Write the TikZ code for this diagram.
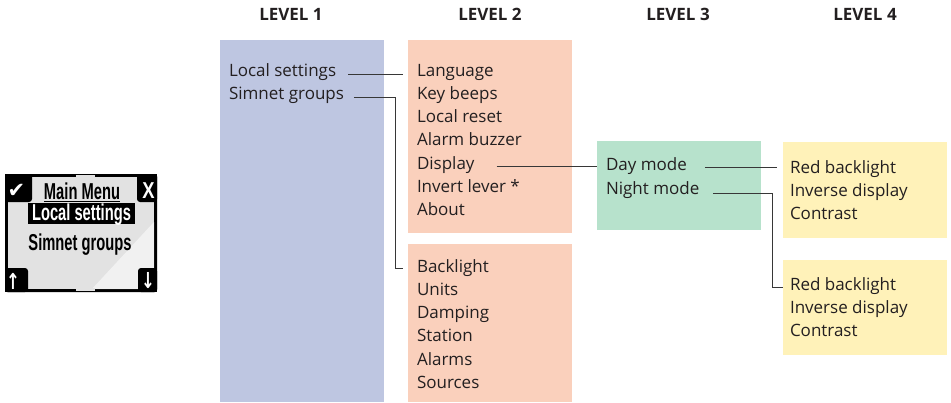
\documentclass[tikz,border=0pt]{standalone}
\usepackage{fontspec}
\setmainfont{Open Sans}
\newfontfamily\screenfont{Liberation Sans}
\newfontfamily\symfont{DejaVu Sans}
\usepackage{graphicx}
\usetikzlibrary{calc}
\definecolor{lvone}{RGB}{190,198,225}
\definecolor{lvtwo}{RGB}{250,208,188}
\definecolor{lvthree}{RGB}{183,226,204}
\definecolor{lvfour}{RGB}{255,242,185}
\definecolor{txt}{RGB}{35,31,32}
\definecolor{wirec}{RGB}{55,55,55}
\definecolor{scrgray}{RGB}{226,226,226}
\tikzset{
  panel/.style={inner sep=0pt, outer sep=0pt, anchor=north west},
  item/.style={anchor=base west, inner sep=0pt, outer sep=0pt, text=txt, font=\fontsize{17}{20}\selectfont},
  head/.style={anchor=base, inner sep=0pt, text=txt, font=\bfseries\fontsize{17}{20}\selectfont},
  wire/.style={draw=wirec, line width=0.9pt},
  scr/.style={inner sep=0pt, outer sep=0pt, anchor=base, font=\screenfont\bfseries\fontsize{23}{25}\selectfont},
  sym/.style={inner sep=0pt, outer sep=0pt, anchor=center, text=white},
}
\begin{document}
\begin{tikzpicture}[x=1pt,y=-1pt]
\useasboundingbox (0,0) rectangle (951,402);

% headers
\node[head] (h1) at (291,20.5) {LEVEL 1};
\node[head] (h2) at (490,20.5) {LEVEL 2};
\node[head] (h3) at (678,20.5) {LEVEL 3};
\node[head] (h4) at (865,20.5) {LEVEL 4};

% panels
\node[panel, fill=lvone,   minimum width=164pt, minimum height=362pt] (p1)  at (220,40) {};
\node[panel, fill=lvtwo,   minimum width=164pt, minimum height=193pt] (p2a) at (408,40) {};
\node[panel, fill=lvtwo,   minimum width=164pt, minimum height=158pt] (p2b) at (408,244) {};
\node[panel, fill=lvthree, minimum width=164pt, minimum height=89pt]  (p3)  at (597,141) {};
\node[panel, fill=lvfour,  minimum width=164pt, minimum height=96pt]  (p4a) at (783,142) {};
\node[panel, fill=lvfour,  minimum width=164pt, minimum height=95pt]  (p4b) at (783,260) {};

% level 1
\node[item] (ls) at (229,76) {Local settings};
\node[item] (sg) at (229,99.3) {Simnet groups};

% level 2 (a)
\node[item] (lang) at (417,76) {Language};
\node[item] (kb)   at (417,99.3) {Key beeps};
\node[item] (lr)   at (417,122.6) {Local reset};
\node[item] (ab)   at (417,145.9) {Alarm buzzer};
\node[item] (disp) at (417,169.2) {Display};
\node[item] (inv)  at (417,192.5) {Invert lever *};
\node[item] (abt)  at (417,215.8) {About};

% level 2 (b)
\node[item] (bl)  at (417,272) {Backlight};
\node[item] (un)  at (417,295.3) {Units};
\node[item] (dmp) at (417,318.6) {Damping};
\node[item] (st)  at (417,341.9) {Station};
\node[item] (al)  at (417,365.2) {Alarms};
\node[item] (src) at (417,388.5) {Sources};

% level 3
\node[item] (dm) at (606,170) {Day mode};
\node[item] (nm) at (606,194) {Night mode};

% level 4
\node[item] (rb1) at (790,173) {Red backlight};
\node[item] (id1) at (790,196.3) {Inverse display};
\node[item] (ct1) at (790,219.6) {Contrast};
\node[item] (rb2) at (790,290) {Red backlight};
\node[item] (id2) at (790,313.3) {Inverse display};
\node[item] (ct2) at (790,336.6) {Contrast};

% connectors
\draw[wire] ([xshift=12pt,yshift=-1pt]ls.mid east) -- ([xshift=-14pt,yshift=-1pt]lang.mid west);
\draw[wire] ([xshift=10pt,yshift=-1pt]sg.mid east) -| ($(bl.mid west)+(-22,-1)$) -- ($(bl.mid west)+(-14,-1)$);
\draw[wire] ([xshift=22pt]disp.mid east) -- (disp.mid east -| p3.west);
\draw[wire] ([xshift=18pt]dm.mid east) -- ($(dm.mid east -| p4a.west)+(-6,0)$);
\draw[wire] ([xshift=14pt,yshift=-2pt]nm.mid east) -| ($(p4b.west |- rb2.mid)+(-11,0)$) -- (p4b.west |- rb2.mid);

% device screen
\fill[black, rounded corners=2pt] (5,174) rectangle (157,292);
\fill[scrgray] (8,177) rectangle (154,289);
\fill[white, opacity=0.55] (92,289) -- (154,222) -- (154,289) -- cycle;
\fill[scrgray] (76,175.2) rectangle (95,178);
\fill[scrgray] (76,288) rectangle (95,290.8);
\fill[black, rounded corners=3pt] (5,174) rectangle (32,202);
\fill[black, rounded corners=3pt] (137,174) rectangle (157,202);
\fill[black, rounded corners=3pt] (5,268) rectangle (28,292);
\fill[black, rounded corners=3pt] (138,268) rectangle (157,292);
\fill[black] (5,174) rectangle (20,185);
\fill[black] (145,174) rectangle (157,185);
\fill[black] (5,280) rectangle (20,292);
\fill[black] (145,280) rectangle (157,292);

\node[sym, font=\symfont\fontsize{21}{22}\selectfont] (chk) at (16.5,190.5) {✔};
\node[sym, font=\screenfont\bfseries\fontsize{23}{25}\selectfont] (xx) at (148.5,190.5) {\scalebox{0.8}[1]{X}};
\node[sym, font=\symfont\bfseries\fontsize{22}{24}\selectfont] (up) at (13,281) {\scalebox{0.75}[1]{↑}};
\node[sym, font=\symfont\bfseries\fontsize{22}{24}\selectfont] (dn) at (148,281) {\scalebox{0.75}[1]{↓}};

\node[scr] (mm) at (82,199) {\scalebox{0.64}[1]{Main Menu}};
\draw[black, line width=1pt] ($(mm.base west)+(0,2.5)$) -- ($(mm.base east)+(0,2.5)$);
\node[fill=black, inner sep=0pt, outer sep=0pt, minimum width=107pt, minimum height=21pt, anchor=north west] (bar) at (28,203) {};
\node[scr, text=white] (msel) at (81.5,220) {\scalebox{0.64}[1]{Local settings}};
\node[scr] (msg) at (80,250.5) {\scalebox{0.64}[1]{Simnet groups}};
\end{tikzpicture}
\end{document}
